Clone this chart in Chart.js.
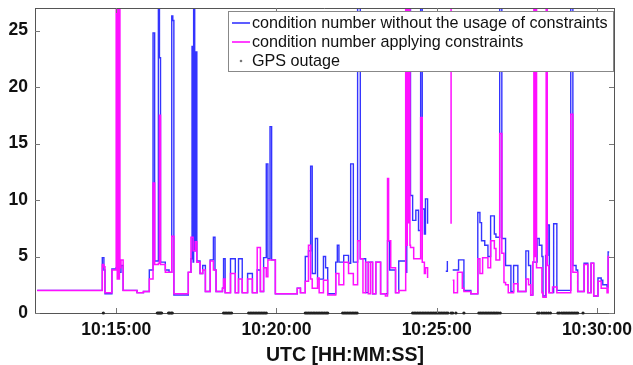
<!DOCTYPE html>
<html><head><meta charset="utf-8">
<script src="https://cdn.jsdelivr.net/npm/chart.js@4.4.0/dist/chart.umd.min.js"></script>
<style>html,body{margin:0;padding:0;background:#fff;}#wrap{width:633px;height:365px;}</style>
</head><body><div id="wrap"><canvas id="c" width="633" height="365"></canvas></div>
<script>
// times are seconds after 10:00:00 UTC
const seriesNames = ['condition number without the usage of constraints', 'condition number applying constraints', 'GPS outage'];
const xAxisTitle = 'UTC [HH:MM:SS]';
const xTickValues = [900, 1200, 1500, 1800];
const xTickLabels = ['10:15:00', '10:20:00', '10:25:00', '10:30:00'];
const yTickValues = [0, 5, 10, 15, 20, 25];

// step series: [time, value] = value holding from that time on (35 = beyond plot top)
const withoutConstraints = [[752,2.0],[874,4.9],[877,3.8],[879,1.7],[892,3.9],[900,4.0],[906,3.6],[909,4.2],[913,2.0],[939,1.8],[951,1.9],[962,3.8],[969,24.8],[972,4.6],[979,35],[981,22.6],[983,4.5],[992,3.8],[999,3.6],[1004,26.3],[1006,25.9],[1008,1.6],[1035,3.6],[1040,4.8],[1042,23.6],[1044,4.5],[1045,35],[1047,5.5],[1049,23.1],[1051,4.6],[1057,3.5],[1062,4.2],[1067,1.9],[1076,4.7],[1082,6.7],[1085,3.8],[1087,1.9],[1099,2.2],[1101,4.8],[1104,1.8],[1114,4.8],[1123,1.8],[1129,4.8],[1136,1.8],[1146,3.5],[1155,1.8],[1164,3.8],[1170,1.9],[1176,4.9],[1181,13.2],[1184,4.8],[1188,16.5],[1191,4.7],[1198,1.7],[1239,2.2],[1245,1.8],[1254,5.0],[1260,5.5],[1264,13.0],[1267,3.5],[1273,6.6],[1277,3.0],[1288,5.0],[1292,4.0],[1296,1.7],[1311,4.5],[1314,6.0],[1317,4.5],[1326,5.1],[1335,4.4],[1339,13.2],[1344,4.5],[1352,35],[1357,4.8],[1367,1.8],[1372,4.5],[1380,1.7],[1386,4.5],[1395,1.7],[1408,6.4],[1412,3.8],[1423,1.8],[1429,4.6],[1442,3.6],[1444,35],[1451,10.4],[1455,8.2],[1461,9.1],[1466,7.3],[1470,35],[1473,9.2],[1477,7.0],[1479,10.1],[1483,7.9],[1487,null],[1517,3.7],[1520,4.6],[1523,null],[1530,3.8],[1541,4.7],[1551,2.0],[1564,1.7],[1577,8.9],[1581,8.0],[1584,6.4],[1590,6.0],[1596,5.0],[1601,8.6],[1608,7.0],[1611,6.7],[1618,35],[1622,6.6],[1629,4.2],[1639,1.9],[1644,4.2],[1652,1.9],[1667,5.5],[1672,4.2],[1676,1.6],[1680,4.5],[1688,6.6],[1692,6.0],[1697,5.0],[1699,1.5],[1704,5.1],[1708,7.8],[1711,1.8],[1719,7.9],[1725,2.0],[1751,35],[1755,4.2],[1761,3.8],[1764,1.9],[1776,4.4],[1783,1.8],[1789,4.4],[1794,1.5],[1802,3.1],[1808,2.9],[1811,2.5],[1819,2.3],[1821,5.4],[1823,5.4]];

const applyingConstraints = [[752,2.0],[874,4.3],[877,4.1],[879,1.8],[892,3.8],[900,35],[902,3.0],[903,35],[905,3.0],[906,35],[907,4.0],[909,4.7],[913,2.0],[939,1.8],[951,1.9],[962,3.0],[969,11.5],[972,4.3],[979,4.4],[981,17.5],[983,4.3],[992,3.6],[1004,6.8],[1008,1.7],[1035,3.6],[1040,6.7],[1044,5.5],[1048,6.3],[1051,4.5],[1057,3.5],[1062,3.8],[1067,1.9],[1076,4.6],[1082,3.8],[1087,1.9],[1099,2.2],[1101,3.0],[1104,1.8],[1114,3.5],[1123,1.8],[1129,3.0],[1136,1.8],[1146,3.0],[1155,1.8],[1164,5.8],[1170,1.9],[1176,4.0],[1181,3.2],[1184,4.7],[1198,1.7],[1239,2.2],[1245,1.8],[1254,2.8],[1260,6.0],[1264,3.0],[1267,2.2],[1277,3.1],[1280,1.8],[1288,2.9],[1296,1.6],[1311,3.5],[1317,2.5],[1326,4.5],[1335,3.5],[1344,2.5],[1352,6.4],[1357,4.8],[1362,1.8],[1367,4.5],[1372,1.7],[1376,4.5],[1380,1.7],[1386,4.5],[1395,1.7],[1404,1.5],[1408,11.9],[1410,6.4],[1414,4.0],[1423,1.8],[1429,2.0],[1442,35],[1444,6.0],[1445,35],[1447,8.0],[1448,35],[1450,6.0],[1451,5.8],[1457,4.8],[1470,17.3],[1473,4.5],[1477,3.5],[1479,4.0],[1483,3.1],[1487,null],[1525,35],[1527,7.9],[1529,null],[1530,2.9],[1532,1.8],[1539,3.6],[1548,2.2],[1551,1.9],[1564,1.7],[1577,4.8],[1581,3.5],[1586,4.9],[1596,4.0],[1601,6.4],[1608,5.7],[1611,4.7],[1618,15.9],[1622,5.3],[1626,2.7],[1629,2.5],[1634,1.8],[1644,2.6],[1652,1.9],[1667,3.0],[1672,2.5],[1676,1.6],[1680,4.5],[1682,35],[1684,5.0],[1685,35],[1687,4.0],[1697,1.8],[1699,1.4],[1705,35],[1707,4.2],[1710,1.8],[1717,2.3],[1725,1.8],[1751,17.6],[1755,3.6],[1764,1.9],[1776,4.3],[1783,1.8],[1789,4.4],[1794,1.5],[1802,2.8],[1808,2.2],[1819,1.8],[1821,5.0],[1823,5.0]];

const gpsOutageTimes = [876,977,979,981,983,985,998,1000,1003,1005,1101,1104,1107,1110,1113,1116,1148,1151,1154,1157,1160,1163,1166,1169,1172,1175,1178,1181,1254,1257,1260,1263,1266,1269,1272,1275,1278,1281,1284,1287,1290,1293,1296,1324,1327,1330,1333,1336,1339,1342,1345,1348,1351,1455,1458,1461,1464,1467,1470,1473,1476,1479,1482,1485,1488,1491,1494,1497,1500,1503,1506,1509,1512,1515,1518,1521,1527,1530,1536,1551,1579,1582,1585,1588,1591,1594,1597,1600,1603,1606,1609,1612,1615,1619,1689,1692,1697,1701,1705,1709,1713,1727,1730,1734,1737,1740,1743,1746,1749,1752,1755,1758,1761,1764,1774];

const BLUE = '#3434ff', MAGENTA = '#ff10ff', DOT = '#222222';
const FONT = "'Liberation Sans', Arial, Helvetica, sans-serif";

const frameTicksLegend = {
  id: 'frameTicksLegend',
  afterDraw(chart) {
    const {ctx, chartArea: a, scales: {x, y}} = chart;
    ctx.save();
    ctx.strokeStyle = '#555'; ctx.lineWidth = 1;
    ctx.beginPath();
    ctx.moveTo(a.left, a.top + 0.5); ctx.lineTo(a.right + 0.5, a.top + 0.5);
    ctx.moveTo(a.right + 0.5, a.top); ctx.lineTo(a.right + 0.5, a.bottom);
    ctx.stroke();
    ctx.strokeStyle = '#777';
    ctx.beginPath();
    xTickValues.forEach(v => { const px = Math.round(x.getPixelForValue(v)) + 0.5;
      ctx.moveTo(px, a.bottom); ctx.lineTo(px, a.bottom - 5);
      ctx.moveTo(px, a.top); ctx.lineTo(px, a.top + 5); });
    yTickValues.forEach(v => { const py = Math.round(y.getPixelForValue(v)) + 0.5;
      ctx.moveTo(a.left, py); ctx.lineTo(a.left + 5, py);
      ctx.moveTo(a.right, py); ctx.lineTo(a.right - 5, py); });
    ctx.stroke();
    // legend box
    const bx = 228.5, by = 11.5, bw = 385, bh = 60;
    ctx.fillStyle = '#fff'; ctx.fillRect(bx, by, bw, bh);
    ctx.strokeStyle = '#888'; ctx.strokeRect(bx, by, bw, bh);
    const rows = [23, 42, 61];
    ctx.lineWidth = 1.6;
    ctx.strokeStyle = BLUE; ctx.beginPath(); ctx.moveTo(232, rows[0]); ctx.lineTo(250, rows[0]); ctx.stroke();
    ctx.strokeStyle = MAGENTA; ctx.beginPath(); ctx.moveTo(232, rows[1]); ctx.lineTo(250, rows[1]); ctx.stroke();
    ctx.fillStyle = '#777'; ctx.beginPath(); ctx.arc(241, rows[2], 1.3, 0, Math.PI * 2); ctx.fill();
    ctx.font = '14px ' + FONT;
    const w = ctx.measureText(seriesNames[0]).width;
    const fs = 14 * 356 / w;
    ctx.font = fs.toFixed(2) + 'px ' + FONT;
    ctx.fillStyle = '#111'; ctx.textBaseline = 'middle'; ctx.textAlign = 'left';
    seriesNames.forEach((s, i) => ctx.fillText(s, 252, rows[i] + 1));
    // x axis title
    ctx.font = 'bold 19.5px ' + FONT;
    ctx.textAlign = 'center';
    ctx.fillText(xAxisTitle, 345, 356);
    ctx.restore();
  }
};

const toXY = arr => arr.map(p => ({x: p[0], y: p[1]}));

new Chart(document.getElementById('c'), {
  type: 'line',
  data: {
    datasets: [
      {label: seriesNames[0], data: toXY(withoutConstraints), borderColor: BLUE, borderWidth: 1.4, stepped: true, pointRadius: 0, spanGaps: false, clip: 0, order: 2},
      {label: seriesNames[1], data: toXY(applyingConstraints), borderColor: MAGENTA, borderWidth: 1.5, stepped: true, pointRadius: 0, spanGaps: false, clip: 0, order: 1},
      {label: seriesNames[2], type: 'scatter', data: gpsOutageTimes.map(t => ({x: t, y: 0})), pointRadius: 1.6, pointBackgroundColor: DOT, pointBorderWidth: 0, showLine: false, clip: false, order: 0}
    ]
  },
  options: {
    responsive: false, animation: false, devicePixelRatio: 1,
    layout: {padding: {top: 8, right: 19, left: 0, bottom: 0}},
    plugins: {legend: {display: false}, tooltip: {enabled: false}},
    scales: {
      x: {
        type: 'linear', min: 748, max: 1832,
        afterBuildTicks: s => { s.ticks = xTickValues.map(v => ({value: v})); },
        afterFit: s => { s.height = 52; s.paddingLeft = 0; s.paddingRight = 0; },
        ticks: {callback: v => xTickLabels[xTickValues.indexOf(v)], font: {family: FONT, size: 17.5, weight: 'bold'}, color: '#111', padding: 7, maxRotation: 0, autoSkip: false},
        grid: {display: false, drawTicks: false},
        border: {display: true, color: '#555', width: 1}
      },
      y: {
        min: 0, max: 27,
        afterBuildTicks: s => { s.ticks = yTickValues.map(v => ({value: v})); },
        afterFit: s => { s.width = 35; s.paddingTop = 0; s.paddingBottom = 0; },
        ticks: {font: {family: FONT, size: 17.5, weight: 'bold'}, color: '#111', padding: 7},
        grid: {display: false, drawTicks: false},
        border: {display: true, color: '#555', width: 1}
      }
    }
  },
  plugins: [frameTicksLegend]
});
</script></body></html>
